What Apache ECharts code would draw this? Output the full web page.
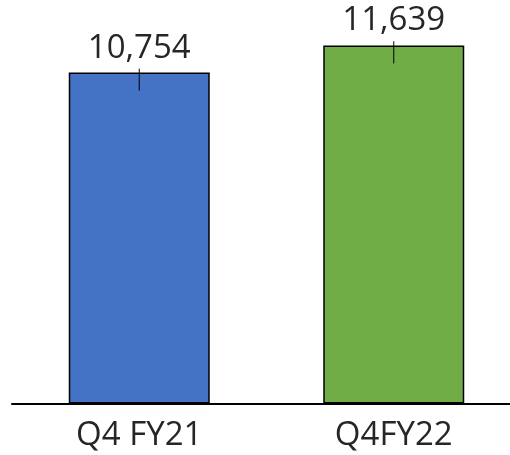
<!DOCTYPE html>
<html>
<head>
<meta charset="utf-8">
<script src="https://cdn.jsdelivr.net/npm/echarts@6/dist/echarts.min.js"></script>
<style>
  html, body { margin: 0; padding: 0; background: #fff; }
  #chart { width: 510px; height: 455px; }
</style>
</head>
<body>
<div id="chart"></div>
<script>
var categories = ['Q4 FY21', 'Q4FY22'];
var values = [10754, 11639];
var barColors = ['#4472C4', '#70AD47'];

var chartDom = document.getElementById('chart');
var myChart = echarts.init(chartDom, null, { renderer: 'canvas' });

var option = {
  animation: false,
  grid: { left: 12, top: 3.5, width: 509, height: 400, outerBoundsMode: 'none', containLabel: false },
  xAxis: {
    type: 'category',
    data: categories,
    axisLine: { lineStyle: { color: '#000', width: 2 } },
    axisTick: { show: false },
    axisLabel: {
      color: '#262626',
      fontFamily: 'Open Sans',
      fontSize: 33,
      margin: 16
    }
  },
  yAxis: {
    type: 'value',
    min: 0,
    max: 13000,
    show: false,
    splitLine: { show: false }
  },
  series: [{
    type: 'bar',
    barWidth: 141,
    data: values.map(function (v, i) {
      return { value: v, itemStyle: { color: barColors[i] } };
    }),
    itemStyle: { borderColor: '#000', borderWidth: 1.5 },
    label: {
      show: true,
      position: 'top',
      distance: 8,
      color: '#262626',
      fontFamily: 'Open Sans',
      fontSize: 33,
      formatter: function (p) { return p.value.toLocaleString('en-US'); }
    }
  }, {
    // small tick mark across the top edge of each bar
    type: 'custom',
    data: values.map(function (v, i) { return [i, v]; }),
    renderItem: function (params, api) {
      var pt = api.coord([api.value(0), api.value(1)]);
      return {
        type: 'line',
        shape: { x1: pt[0], y1: pt[1] - 4, x2: pt[0], y2: pt[1] + 18 },
        style: { stroke: '#000', lineWidth: 1 }
      };
    },
    z: 10
  }]
};

myChart.setOption(option);
</script>
</body>
</html>
